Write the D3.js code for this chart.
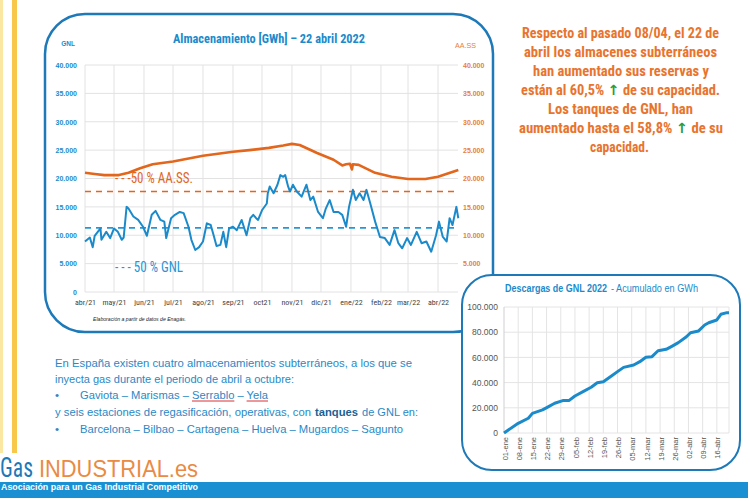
<!DOCTYPE html>
<html><head><meta charset="utf-8">
<script src="https://cdn.jsdelivr.net/npm/d3@7"></script>
<style>
body{margin:0;background:#fff}
svg{display:block}
text{font-family:"Liberation Sans",Arial,sans-serif}
.narrow{font-family:"Liberation Sans Narrow","Arial Narrow","Roboto Condensed","Liberation Sans",sans-serif}
</style>
</head><body>
<svg id="c" width="750" height="501"></svg>
<script>
// ---------------- DATA ----------------
const monthLabels = ["abr/21","may/21","jun/21","jul/21","ago/21","sep/21","oct21","nov/21","dic/21","ene/22","feb/22","mar/22","abr/22"];
const leftTicks = [0,5000,10000,15000,20000,25000,30000,35000,40000];
// [day since 2021-04-01, GWh]
const gnlSeries = [[0,8900],[5,9600],[8,7900],[10,9900],[16,11200],[17,9200],[22,10600],[26,9500],[30,11200],[34,10600],[38,9200],[40,9600],[43,15000],[45,14700],[50,13300],[55,12700],[60,11500],[64,9900],[69,13600],[73,14300],[78,12700],[82,12400],[84,9500],[89,13000],[93,13600],[98,14100],[102,13900],[107,11500],[110,9200],[114,7400],[118,7900],[122,8900],[126,12100],[130,11800],[133,10000],[136,8100],[140,8300],[143,10600],[146,7900],[149,11200],[153,11500],[157,10900],[162,12700],[167,10000],[171,13000],[174,13600],[177,13000],[179,12700],[183,14400],[188,15600],[189,17400],[191,18600],[195,17400],[199,18900],[202,20600],[205,20300],[207,20600],[210,18600],[212,17700],[215,18900],[219,17700],[224,16800],[229,18900],[233,16200],[236,16800],[241,14100],[246,13000],[249,14700],[253,16200],[257,14100],[262,14100],[266,13600],[270,11500],[273,15000],[277,18000],[280,16200],[284,17400],[288,16200],[291,18000],[295,15600],[300,12400],[305,9700],[310,9500],[315,8300],[320,10900],[324,8600],[328,7700],[333,9500],[337,8300],[343,10600],[348,8600],[353,8900],[358,7100],[363,10000],[366,12400],[370,9700],[374,8900],[377,13000],[380,11800],[384,15000],[386,13000]];
const aassSeries = [[0,21000],[10,20800],[20,20600],[35,20600],[45,21000],[57,21800],[70,22500],[91,23000],[122,24000],[153,24700],[170,25000],[190,25400],[205,25800],[214,26100],[222,25900],[240,24500],[257,23300],[266,22300],[270,22500],[274,22600],[276,21600],[277,22500],[283,22400],[300,21000],[317,20300],[334,19900],[352,19900],[365,20300],[386,21500]];
const aassHalf = 17700;
const gnlHalf = 11300;
// inset: [day since 2022-01-01, cumulative GWh]
const descargasSeries = [[0,0],[7,7700],[12,11700],[14,15600],[19,18300],[22,20900],[25,23600],[29,25700],[32,25700],[35,29400],[39,32800],[43,36300],[46,39900],[49,40700],[53,45200],[56,48700],[59,52100],[64,54000],[67,56600],[70,60100],[73,60600],[76,65300],[80,66400],[83,69000],[86,71700],[90,76400],[92,79600],[96,81000],[99,85700],[101,87500],[105,89700],[107,94200],[110,95500],[111,95500]];
const weekLabels = ["01-ene","08-ene","15-ene","22-ene","29-ene","05-feb","12-feb","19-feb","26-feb","05-mar","12-mar","19-mar","26-mar","02-abr","09-abr","16-abr"];
const insetTicks = [0,20000,40000,60000,80000,100000];

// ---------------- DRAW ----------------
const svg = d3.select("#c");
const BLUE = "#1b8acb", DBLUE = "#1d79b8", ORANGE = "#e2661b", OTEXT = "#e8742e", TBLUE = "#2a88c6";
const fmt = d => d === 0 ? "0" : d3.format(",")(d).replace(/,/g, ".");

svg.append("rect").attr("x",0).attr("y",0).attr("width",3).attr("height",453).attr("fill","#fbe6a2");
svg.append("rect").attr("x",12).attr("y",0).attr("width",5).attr("height",453).attr("fill","#f7c84a");

svg.append("rect").attr("x",45).attr("y",14).attr("width",448).attr("height",318).attr("rx",40)
  .attr("fill","#fff").attr("stroke",DBLUE).attr("stroke-width",2.5);

const start = new Date(2021,3,1);
const x = d3.scaleTime().domain([start, new Date(2022,3,1)]).range([85,438]);
const y = d3.scaleLinear().domain([0,40000]).range([292,65]);
const months = d3.timeMonth.range(start, new Date(2022,3,2));
const dday = d => d3.timeDay.offset(start, d);

const g = svg.append("g");
g.selectAll(".hg").data(leftTicks).join("line")
  .attr("x1",85).attr("x2",458).attr("y1",d=>y(d)).attr("y2",d=>y(d))
  .attr("stroke","#e2e2e2").attr("stroke-width",1);
g.selectAll(".vg").data(months).join("line")
  .attr("x1",d=>x(d)).attr("x2",d=>x(d)).attr("y1",65).attr("y2",292)
  .attr("stroke","#e2e2e2").attr("stroke-width",1);

const la = g.append("g").attr("transform","translate(85,0)")
  .call(d3.axisLeft(y).tickValues(leftTicks).tickSize(0).tickPadding(8).tickFormat(fmt));
la.select(".domain").remove();
la.selectAll("text").attr("fill",BLUE).attr("font-size",7).attr("font-weight","bold");
const ra = g.append("g").attr("transform","translate(458,0)")
  .call(d3.axisRight(y).tickValues(leftTicks.filter(d=>d>0)).tickSize(0).tickPadding(5).tickFormat(fmt));
ra.select(".domain").remove();
ra.selectAll("text").attr("fill","#e8803a").attr("font-size",7).attr("font-weight","bold");
const xa = g.append("g").attr("transform","translate(0,292)")
  .call(d3.axisBottom(x).tickValues(months).tickSize(0).tickPadding(7).tickFormat((d,i)=>monthLabels[i]));
xa.select(".domain").remove();
xa.selectAll("text").attr("fill","#444").attr("font-size",8).attr("class","narrow");

g.append("line").attr("x1",85).attr("x2",458).attr("y1",y(aassHalf)).attr("y2",y(aassHalf))
  .attr("stroke",ORANGE).attr("stroke-width",1.6).attr("stroke-dasharray","6,5");
g.append("line").attr("x1",85).attr("x2",458).attr("y1",y(gnlHalf)).attr("y2",y(gnlHalf))
  .attr("stroke","#2596d6").attr("stroke-width",1.6).attr("stroke-dasharray","6,5");

const line = d3.line().x(d=>x(dday(d[0]))).y(d=>y(d[1]));
g.append("path").datum(aassSeries).attr("d",line).attr("fill","none").attr("stroke",ORANGE).attr("stroke-width",2.6).attr("stroke-linejoin","round");
g.append("path").datum(gnlSeries).attr("d",line).attr("fill","none").attr("stroke",BLUE).attr("stroke-width",2).attr("stroke-linejoin","round");

svg.append("text").attr("class","narrow").attr("x",269).attr("y",43).attr("text-anchor","middle")
  .attr("font-size",12.5).attr("font-weight","bold").attr("fill",BLUE)
  .attr("textLength",192).attr("lengthAdjust","spacingAndGlyphs").text("Almacenamiento [GWh] – 22 abril 2022");
svg.append("text").attr("x",68).attr("y",46).attr("text-anchor","middle").attr("font-size",6.5).attr("font-weight","bold").attr("fill",BLUE).text("GNL");
svg.append("text").attr("x",455).attr("y",48).attr("font-size",7.5).attr("fill","#e8803a").attr("textLength",21).attr("lengthAdjust","spacingAndGlyphs").text("AA.SS");
svg.append("text").attr("class","narrow").attr("x",115).attr("y",182.5).attr("font-size",15).attr("fill",ORANGE)
  .attr("textLength",78).attr("lengthAdjust","spacingAndGlyphs").text("- - -50 % AA.SS.");
svg.append("text").attr("class","narrow").attr("x",115).attr("y",271.5).attr("font-size",15).attr("fill","#2596d6")
  .attr("textLength",68).attr("lengthAdjust","spacingAndGlyphs").text("- - - 50 % GNL");
svg.append("text").attr("x",93).attr("y",321).attr("font-size",5.5).attr("font-style","italic").attr("fill","#222")
  .attr("textLength",93).attr("lengthAdjust","spacingAndGlyphs").text("Elaboración a partir de datos de Enagás.");

const info = [
  {y:37.5, x1:522, x2:719, parts:[["Respecto al pasado 08/04, el 22 de"]]},
  {y:56.5, x1:524, x2:717, parts:[["abril los almacenes subterráneos"]]},
  {y:75.5, x1:533, x2:709, parts:[["han aumentado sus reservas y"]]},
  {y:94.5, x1:521, x2:720, parts:[["están al 60,5% "],["↑",1],[" de su capacidad."]]},
  {y:114, x1:548, x2:693, parts:[["Los tanques de GNL, han"]]},
  {y:133, x1:519, x2:723, parts:[["aumentado hasta el 58,8% "],["↑",1],[" de su"]]},
  {y:151.5, x1:590, x2:649, parts:[["capacidad."]]}
];
info.forEach(l=>{
  const t = svg.append("text").attr("class","narrow").attr("x",l.x1).attr("y",l.y)
    .attr("font-size",14).attr("font-weight","bold").attr("fill",OTEXT)
    .attr("textLength",l.x2-l.x1).attr("lengthAdjust","spacingAndGlyphs");
  l.parts.forEach(p=>{
    const ts = t.append("tspan").text(p[0]);
    if(p[1]) ts.attr("fill","#2f9a36").attr("font-family","DejaVu Sans").attr("font-weight","bold");
  });
});

const body = [
  {y:366.5, segs:[["En España existen cuatro almacenamientos subterráneos, a los que se",55,412]]},
  {y:382.5, segs:[["inyecta gas durante el periodo de abril a octubre:",55,294]]},
  {y:399, bullet:true, segs:[["Gaviota – Marismas – Serrablo – Yela",80,268]], under:["Serrablo","Yela"]},
  {y:415.5, segs:[["y seis estaciones de regasificación, operativas, con",55,311],["tanques",315,358,1],["de GNL en:",362,418]]},
  {y:432.5, bullet:true, segs:[["Barcelona – Bilbao – Cartagena – Huelva – Mugardos – Sagunto",80,403]]}
];
body.forEach(l=>{
  if(l.bullet) svg.append("text").attr("x",55).attr("y",l.y).attr("font-size",11.5).attr("fill",TBLUE).text("•");
  l.segs.forEach(sg=>{
    const t = svg.append("text").attr("x",sg[1]).attr("y",l.y).attr("font-size",11.5)
      .attr("fill",sg[3]?"#1c5f93":TBLUE).attr("font-weight",sg[3]?"bold":"normal")
      .attr("textLength",sg[2]-sg[1]).attr("lengthAdjust","spacingAndGlyphs").text(sg[0]);
    if(l.under){
      const node = t.node();
      l.under.forEach(w=>{
        const i = sg[0].indexOf(w);
        const s = node.getStartPositionOfChar(i).x;
        const e = node.getEndPositionOfChar(i+w.length-1).x;
        svg.append("line").attr("x1",s).attr("x2",e).attr("y1",l.y+2).attr("y2",l.y+2).attr("stroke","#e03030").attr("stroke-width",1);
      });
    }
  });
});

// logo
svg.append("text").attr("class","narrow").attr("x",0).attr("y",477).attr("font-size",27).attr("fill",DBLUE)
  .attr("textLength",33).attr("lengthAdjust","spacingAndGlyphs").text("Gas");
svg.append("text").attr("x",39).attr("y",477).attr("font-size",23).attr("font-family","Roboto").attr("font-weight",300).attr("fill","#e98a45")
  .attr("textLength",159).attr("lengthAdjust","spacingAndGlyphs").text("INDUSTRIAL.es");
svg.append("rect").attr("x",0).attr("y",482).attr("width",748).attr("height",16).attr("fill","#1a90d2");
svg.append("text").attr("x",1).attr("y",489.5).attr("font-size",9).attr("font-weight","bold").attr("fill","#fff")
  .attr("textLength",197).attr("lengthAdjust","spacingAndGlyphs").text("Asociación para un Gas Industrial Competitivo");

// ---------------- INSET ----------------
svg.append("rect").attr("x",462).attr("y",275).attr("width",278).attr("height",195).attr("rx",30)
  .attr("fill","#fff").attr("stroke",DBLUE).attr("stroke-width",2);
const s2 = new Date(2022,0,1);
const x2 = d3.scaleTime().domain([s2, new Date(2022,3,22)]).range([504,729]);
const y2 = d3.scaleLinear().domain([0,100000]).range([433,307]);
const weeks = d3.range(weekLabels.length).map(i=>d3.timeDay.offset(s2,i*7));
const gi = svg.append("g");
gi.selectAll(".h").data(insetTicks).join("line").attr("x1",504).attr("x2",729).attr("y1",d=>y2(d)).attr("y2",d=>y2(d)).attr("stroke","#e4e4e4");
gi.selectAll(".v").data(weeks.slice(1).concat([new Date(2022,3,22)])).join("line").attr("x1",d=>x2(d)).attr("x2",d=>x2(d)).attr("y1",307).attr("y2",433).attr("stroke","#e4e4e4");
gi.append("line").attr("x1",504).attr("x2",504).attr("y1",307).attr("y2",433).attr("stroke","#cfcfcf");
const ya2 = gi.append("g").attr("transform","translate(504,0)")
  .call(d3.axisLeft(y2).tickValues(insetTicks).tickSize(0).tickPadding(6).tickFormat(fmt));
ya2.select(".domain").remove();
ya2.selectAll("text").attr("fill","#555").attr("font-size",8.5);
gi.selectAll(".wl").data(weeks).join("text")
  .attr("transform",(d)=>`translate(${x2(d)+1},437) rotate(-90)`)
  .attr("text-anchor","end").attr("dy","0.35em").attr("font-size",7.5).attr("fill","#555")
  .text((d,i)=>weekLabels[i]);
const line2 = d3.line().x(d=>x2(d3.timeDay.offset(s2,d[0]))).y(d=>y2(d[1]));
gi.append("path").datum(descargasSeries).attr("d",line2).attr("fill","none").attr("stroke",BLUE).attr("stroke-width",3).attr("stroke-linejoin","round");
svg.append("text").attr("x",505).attr("y",291.5).attr("font-size",10).attr("font-weight","bold").attr("fill",BLUE)
  .attr("textLength",102).attr("lengthAdjust","spacingAndGlyphs").text("Descargas de GNL 2022");
svg.append("text").attr("x",611).attr("y",291.5).attr("font-size",10).attr("fill",BLUE)
  .attr("textLength",87).attr("lengthAdjust","spacingAndGlyphs").text("- Acumulado en GWh");
</script>
</body></html>
